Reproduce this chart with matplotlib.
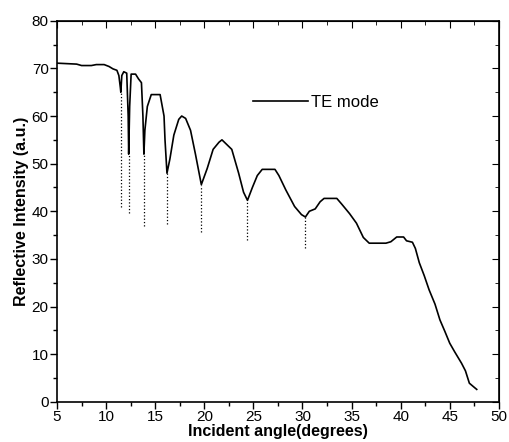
import numpy as np
import matplotlib
matplotlib.use('Agg')
from matplotlib import pyplot as plt
from matplotlib.ticker import MultipleLocator

plt.rcParams['font.family'] = ['Liberation Sans', 'DejaVu Sans']

# TE mode reflectivity curve
angle = [5.0, 6.0, 7.0, 7.5, 8.5, 9.0, 9.8, 10.3, 10.7, 11.1, 11.3, 11.45, 11.5,
         11.6, 11.8, 12.1, 12.25, 12.3, 12.4, 12.55, 13.0, 13.3, 13.6, 13.75,
         13.85, 13.95, 14.2, 14.6, 15.5, 15.9, 16.0, 16.2, 16.5, 16.9, 17.4,
         17.7, 18.1, 18.6, 19.1, 19.7, 20.3, 20.9, 21.5, 21.8, 22.3, 22.8, 23.5,
         24.0, 24.4, 24.9, 25.4, 25.9, 27.2, 27.6, 28.3, 29.2, 29.9, 30.3, 30.7,
         31.3, 31.8, 32.2, 33.5, 34.0, 34.8, 35.5, 36.2, 36.8, 37.3, 38.5, 39.0,
         39.6, 40.3, 40.6, 41.2, 41.5, 41.9, 42.4, 42.9, 43.5, 44.0, 44.5, 45.0,
         45.5, 46.2, 46.6, 47.0, 47.4, 47.75]
intensity = [71.1, 71.0, 70.9, 70.6, 70.6, 70.8, 70.8, 70.4, 69.9, 69.6, 68.5, 66.0, 65.0,
             68.5, 69.3, 69.0, 60.0, 52.0, 62.0, 68.8, 68.8, 67.8, 67.0, 60.0,
             52.0, 57.0, 62.0, 64.5, 64.5, 60.0, 55.0, 48.0, 51.0, 56.0, 59.3,
             60.0, 59.5, 57.0, 52.0, 45.6, 49.0, 53.0, 54.5, 55.0, 54.0, 53.0, 48.0,
             44.0, 42.3, 45.0, 47.5, 48.8, 48.8, 47.5, 44.5, 41.0, 39.3, 38.8, 40.0,
             40.5, 42.0, 42.7, 42.7, 41.5, 39.5, 37.5, 34.5, 33.3, 33.3, 33.3, 33.6,
             34.6, 34.6, 33.8, 33.5, 32.2, 29.2, 26.5, 23.5, 20.5, 17.2, 14.8, 12.3,
             10.5, 8.1, 6.5, 3.9, 3.2, 2.6]

# dotted markers under the dips
dip_x = [11.5, 12.3, 13.85, 16.2, 19.7, 24.4, 30.3]
dip_top = [65, 52, 52, 48, 45.5, 42.3, 39]
dip_bottom = [41, 39.6, 37, 37.3, 35.7, 34, 32.3]

fig = plt.figure(figsize=(5.09, 4.42), dpi=100)
ax = fig.add_axes([0.112, 0.091, 0.868, 0.862])

ax.plot(angle, intensity, color='black', lw=1.2, label='TE mode')
ax.vlines(dip_x, dip_bottom, dip_top, colors='black', linestyles=':', lw=0.9)

ax.set_xlim(5, 50)
ax.set_ylim(0, 80)
ax.xaxis.set_major_locator(MultipleLocator(5))
ax.xaxis.set_minor_locator(MultipleLocator(2.5))
ax.yaxis.set_major_locator(MultipleLocator(10))
ax.yaxis.set_minor_locator(MultipleLocator(5))
ax.tick_params(which='both', direction='out', top=False, right=False, labelsize=11, pad=1)
ax.tick_params(which='major', length=5, width=1)
ax.tick_params(which='minor', length=3, width=1)

# inward ticks on top and right
ax2 = ax.secondary_xaxis('top')
ax2.xaxis.set_major_locator(MultipleLocator(5))
ax2.xaxis.set_minor_locator(MultipleLocator(2.5))
ax2.tick_params(which='both', direction='in', labeltop=False)
ax2.tick_params(which='major', length=5)
ax2.tick_params(which='minor', length=3)
ax3 = ax.secondary_yaxis('right')
ax3.yaxis.set_major_locator(MultipleLocator(10))
ax3.yaxis.set_minor_locator(MultipleLocator(5))
ax3.tick_params(which='both', direction='in', labelright=False)
ax3.tick_params(which='major', length=5)
ax3.tick_params(which='minor', length=3)

for s in ax.spines.values():
    s.set_linewidth(1.2)

ax.set_xlabel('Incident angle(degrees)', fontsize=11.5, fontweight='bold', labelpad=0)
ax.set_ylabel('Reflective Intensity (a.u.)', fontsize=11.5, fontweight='bold', labelpad=2)

ax.legend(loc='upper left', bbox_to_anchor=(0.41, 0.845), frameon=False,
          fontsize=12, handlelength=3.3, handletextpad=0.2)

fig.savefig('out.png', dpi=100)
